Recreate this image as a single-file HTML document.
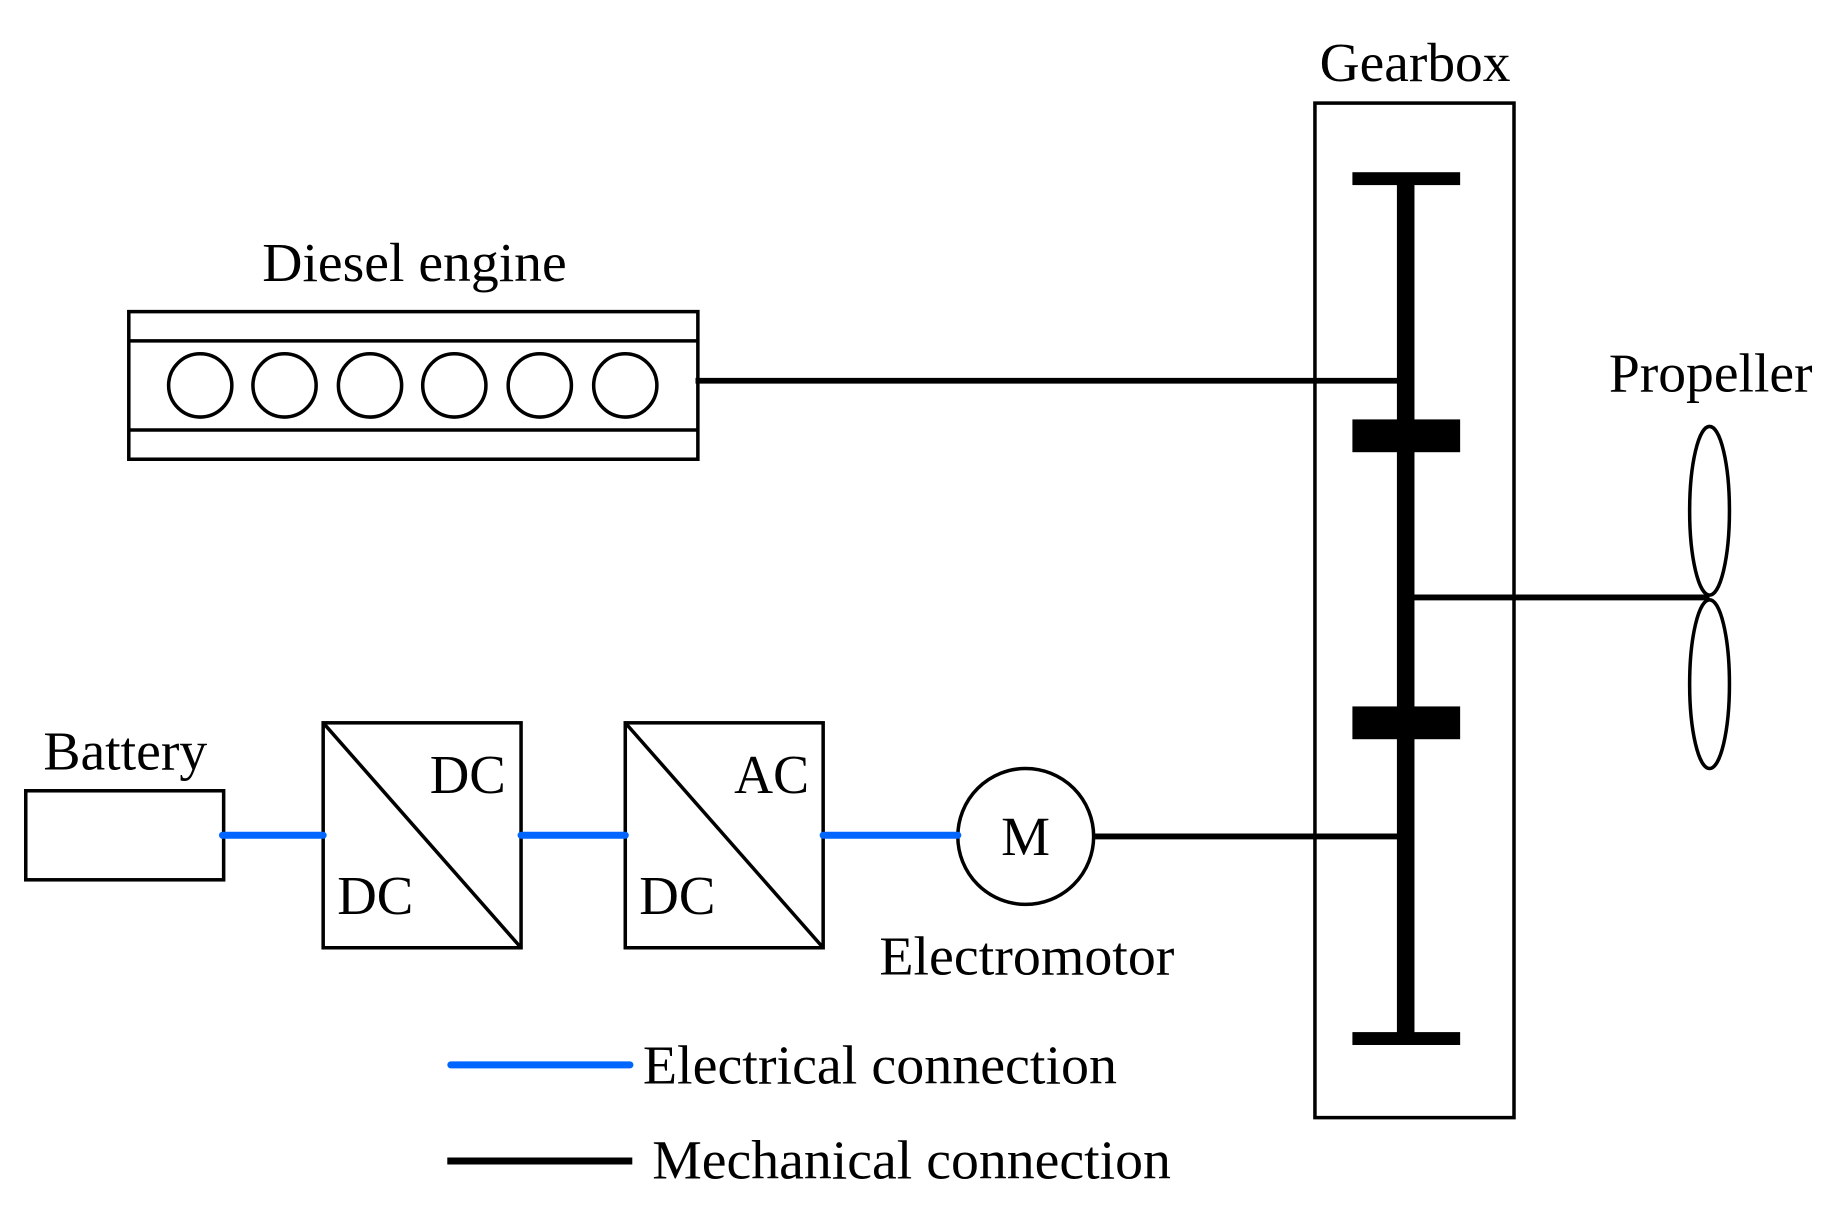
<!DOCTYPE html>
<html><head><style>html,body{margin:0;padding:0;background:#fff}svg{display:block}</style></head>
<body>
<svg width="1836" height="1209" viewBox="0 0 1568 1032" preserveAspectRatio="none" xmlns="http://www.w3.org/2000/svg" font-family="Liberation Serif, serif" fill="none" stroke="#000">
<g stroke-width="3">
<rect x="110" y="266" width="486" height="126"/>
<line x1="110" y1="291" x2="596" y2="291"/>
<line x1="110" y1="367" x2="596" y2="367"/>
<circle cx="171" cy="329" r="27"/><circle cx="243" cy="329" r="27"/><circle cx="316" cy="329" r="27"/>
<circle cx="388" cy="329" r="27"/><circle cx="461" cy="329" r="27"/><circle cx="534" cy="329" r="27"/>
<rect x="1123" y="88" width="170" height="866"/>
<rect x="22" y="675" width="169" height="76"/>
<rect x="276" y="617" width="169" height="192"/>
<line x1="276" y1="617" x2="445" y2="809"/>
<rect x="534" y="617" width="169" height="192"/>
<line x1="534" y1="617" x2="703" y2="809"/>
<circle cx="876" cy="714" r="58"/>
<ellipse cx="1460" cy="436" rx="17" ry="72"/>
<ellipse cx="1460" cy="584" rx="17" ry="72"/>
</g>
<g stroke-width="5">
<line x1="594" y1="325" x2="1200" y2="325"/>
<line x1="934" y1="714" x2="1200" y2="714"/>
<line x1="1200" y1="510" x2="1460" y2="510"/>
<line x1="382" y1="991" x2="540" y2="991" stroke-width="6"/>
</g>
<g stroke="#0066ff" stroke-width="6" stroke-linecap="round">
<line x1="190" y1="713" x2="276" y2="713"/>
<line x1="445" y1="713" x2="534" y2="713"/>
<line x1="703" y1="713" x2="818" y2="713"/>
<line x1="385" y1="909" x2="538" y2="909"/>
</g>
<g fill="#000" stroke="none">
<rect x="1193" y="150" width="15" height="740"/>
<rect x="1155" y="147" width="92" height="11"/>
<rect x="1155" y="358" width="92" height="28"/>
<rect x="1155" y="603" width="92" height="28"/>
<rect x="1155" y="881" width="92" height="11"/>
</g>
<g fill="#000" stroke="none" font-size="47">
<text x="1127" y="69" textLength="163" lengthAdjust="spacingAndGlyphs">Gearbox</text>
<text x="224" y="240" textLength="260" lengthAdjust="spacingAndGlyphs">Diesel engine</text>
<text x="1374" y="334" textLength="174" lengthAdjust="spacingAndGlyphs">Propeller</text>
<text x="37" y="657" textLength="140" lengthAdjust="spacingAndGlyphs">Battery</text>
<text x="367" y="677" textLength="65" lengthAdjust="spacingAndGlyphs">DC</text>
<text x="288" y="780" textLength="65" lengthAdjust="spacingAndGlyphs">DC</text>
<text x="627" y="677" textLength="64" lengthAdjust="spacingAndGlyphs">AC</text>
<text x="546" y="780" textLength="65" lengthAdjust="spacingAndGlyphs">DC</text>
<text x="855" y="730">M</text>
<text x="751" y="832" textLength="252" lengthAdjust="spacingAndGlyphs">Electromotor</text>
<text x="549" y="925" textLength="405" lengthAdjust="spacingAndGlyphs">Electrical connection</text>
<text x="557" y="1006" textLength="443" lengthAdjust="spacingAndGlyphs">Mechanical connection</text>
</g>
</svg>
</body></html>
